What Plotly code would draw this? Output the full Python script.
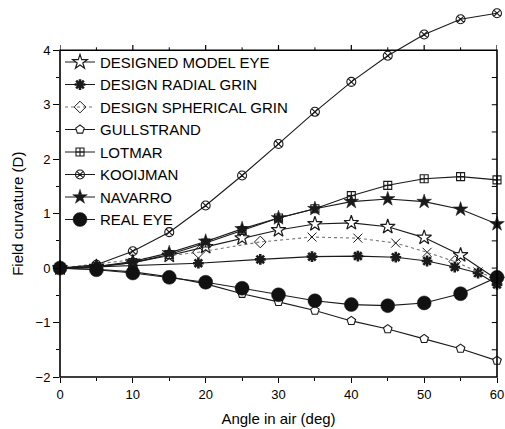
import plotly.graph_objects as go

angle = [0, 5, 10, 15, 20, 25, 30, 35, 40, 45, 50, 55, 60]
grin_angle = [0, 19, 27.5, 34.6, 40.9, 46.1, 50.4, 54.2, 57.4, 60]

designed_model_eye = [0, 0.02, 0.10, 0.23, 0.39, 0.55, 0.70, 0.81, 0.83, 0.76, 0.56, 0.24, -0.21]
design_radial_grin = [0, 0.09, 0.16, 0.21, 0.22, 0.20, 0.13, 0.02, -0.09, -0.30]
design_spherical_grin = [0, 0.29, 0.48, 0.57, 0.55, 0.46, 0.29, 0.12, -0.07, -0.20]
spherical_symbols = ["diamond-open", "diamond-open", "diamond-open", "x-thin-open", "x-thin-open",
                     "x-thin-open", "x-thin-open", "diamond-open", "x-thin-open", "x-thin-open"]
gullstrand = [0, -0.02, -0.07, -0.16, -0.29, -0.47, -0.62, -0.78, -0.97, -1.12, -1.30, -1.48, -1.70]
lotmar = [0, 0.03, 0.10, 0.25, 0.46, 0.69, 0.92, 1.09, 1.33, 1.52, 1.64, 1.68, 1.62]
kooijman = [0, 0.06, 0.31, 0.66, 1.15, 1.70, 2.28, 2.87, 3.42, 3.90, 4.29, 4.57, 4.68]
navarro = [0, 0.03, 0.12, 0.28, 0.49, 0.72, 0.92, 1.09, 1.22, 1.27, 1.22, 1.08, 0.81]
real_eye = [0, -0.03, -0.09, -0.17, -0.26, -0.37, -0.49, -0.60, -0.67, -0.69, -0.64, -0.47, -0.17]

yticks = [-2, -1, 0, 1, 2, 3, 4]
yminor = [-1.5, -0.5, 0.5, 1.5, 2.5, 3.5]
xticks = [0, 10, 20, 30, 40, 50, 60]
xminor = [5, 15, 25, 35, 45, 55]

LC = "#1a1a1a"
fig = go.Figure()

def add(name, x, y, symbol, size, fill, mline=1.1, dash="solid", lcolor=LC):
    fig.add_trace(go.Scatter(
        x=x, y=y, name=name, mode="lines+markers", cliponaxis=False,
        line=dict(color=lcolor, width=1.1, dash=dash),
        marker=dict(symbol=symbol, size=size, color=fill,
                    line=dict(color=LC, width=mline)),
    ))

add("DESIGNED MODEL EYE", angle, designed_model_eye, "star", 11, "white", 1.2)
add("DESIGN RADIAL GRIN", grin_angle, design_radial_grin, "asterisk-open", 9, LC, 2.6)
add("DESIGN SPHERICAL GRIN", grin_angle, design_spherical_grin, spherical_symbols, 9, LC, 1,
    dash="dot", lcolor="#777")
add("GULLSTRAND", angle, gullstrand, "pentagon", 9, "white", 1.1)
add("LOTMAR", angle, lotmar, "square-cross-open", 8, LC, 1.1)
add("KOOIJMAN", angle, kooijman, "circle-x-open", 9, LC, 1.1)
add("NAVARRO", angle, navarro, "star", 11, LC, 0.5)
add("REAL EYE", angle, real_eye, "circle", 14, "#111", 0.5)

ytop = 4.85
pos4 = (4 + 2) / (ytop + 2)

shapes = [dict(type="rect", xref="paper", yref="paper", x0=0, x1=1, y0=0, y1=pos4,
               line=dict(color="black", width=1.6), layer="above")]
# top ticks (pointing up) and right ticks (pointing in) as decorations
for v in xticks:
    shapes.append(dict(type="line", xref="x", yref="paper", x0=v, x1=v,
                       y0=pos4, y1=pos4 + 0.014, line=dict(color="black", width=1.2)))
for v in xminor:
    shapes.append(dict(type="line", xref="x", yref="paper", x0=v, x1=v,
                       y0=pos4, y1=pos4 + 0.008, line=dict(color="black", width=1)))
for v in yticks[1:-1] + yminor:
    shapes.append(dict(type="line", xref="paper", yref="y", x0=1, x1=0.988,
                       y0=v, y1=v, line=dict(color="black", width=1)))

font = "Liberation Sans, Arial"
tickfont = dict(family=font, size=13, color="black")
fig.update_layout(
    width=505, height=429,
    margin=dict(l=60, r=8, t=4, b=52),
    plot_bgcolor="rgba(0,0,0,0)", paper_bgcolor="white",
    showlegend=True,
    shapes=shapes,
    legend=dict(x=0.0, y=0.888, xanchor="left", yanchor="top",
                bgcolor="rgba(0,0,0,0)", borderwidth=0,
                font=dict(family=font, size=15, color="black"),
                itemsizing="trace", tracegroupgap=0),
    xaxis=dict(range=[0, 60], tickvals=xticks, ticks="outside", ticklen=5,
               tickcolor="black", tickwidth=1.2, showgrid=False, zeroline=False,
               showline=False, tickfont=tickfont, ticklabeloverflow="allow", automargin=False,
               minor=dict(tickvals=xminor, ticks="outside", ticklen=3, tickcolor="black"),
               title=dict(text="Angle in air (deg)", standoff=12,
                          font=dict(family=font, size=15, color="black"))),
    yaxis=dict(range=[-2, ytop], tickvals=yticks, ticks="outside", ticklen=6,
               tickcolor="black", tickwidth=1.2, showgrid=False, zeroline=False,
               showline=False, tickfont=tickfont, automargin=False,
               minor=dict(tickvals=yminor, ticks="outside", ticklen=3, tickcolor="black")),
    annotations=[dict(text="Field curvature (D)", textangle=-90, xref="paper", yref="y",
                      x=-0.098, y=1, xanchor="center", yanchor="middle", showarrow=False,
                      font=dict(family=font, size=15, color="black"))],
)

fig.write_html("out.html", config={"displayModeBar": False},
               post_script="document.body.style.margin='0px';document.body.style.overflow='hidden';")
